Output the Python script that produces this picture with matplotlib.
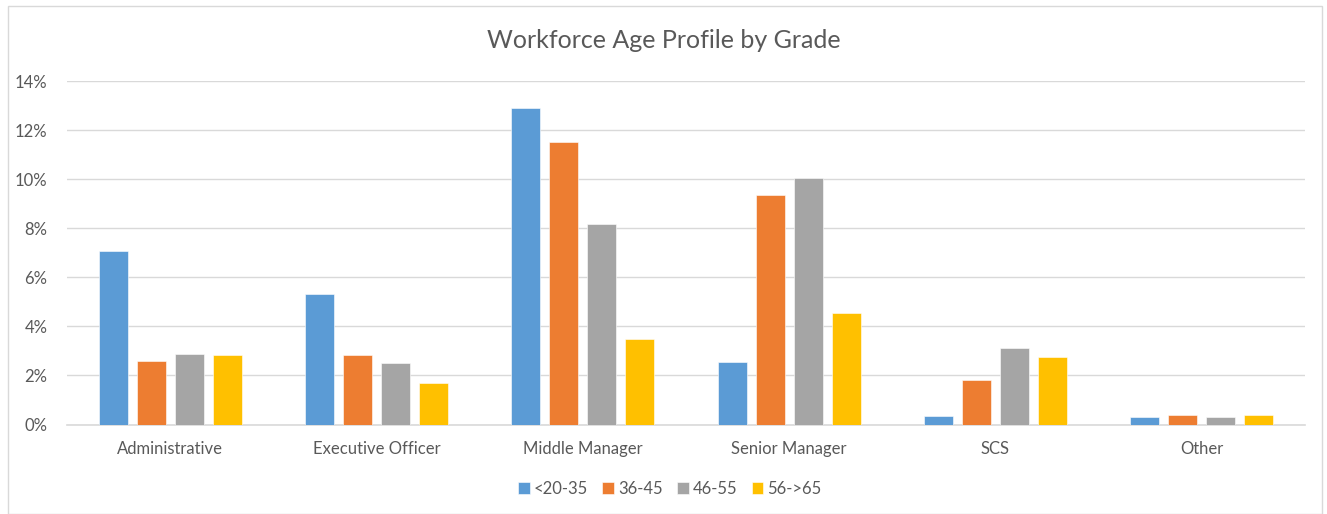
import matplotlib

matplotlib.use("Agg")
import matplotlib.pyplot as plt
import numpy as np
from matplotlib.patches import Rectangle
from matplotlib.ticker import FuncFormatter

plt.rcParams["font.family"] = ["Lato", "DejaVu Sans"]

grades = ["Administrative", "Executive Officer", "Middle Manager",
          "Senior Manager", "SCS", "Other"]
age_bands = ["<20-35", "36-45", "46-55", "56->65"]
share_20_35 = [7.08, 5.31, 12.89, 2.55, 0.33, 0.29]
share_36_45 = [2.59, 2.83, 11.51, 9.35, 1.82, 0.37]
share_46_55 = [2.87, 2.49, 8.17, 10.03, 3.11, 0.29]
share_56_65 = [2.83, 1.68, 3.47, 4.53, 2.77, 0.37]
colors = ["#5B9BD5", "#ED7D31", "#A5A5A5", "#FFC000"]

series = [share_20_35, share_36_45, share_46_55, share_56_65]
text_color = "#595959"
grid_color = "#D9D9D9"

fig = plt.figure(figsize=(13.27, 5.14), dpi=100)
ax = fig.add_axes([67 / 1327, 1 - 424.5 / 514, (1305 - 67) / 1327, (424.5 - 81) / 514])

x = np.arange(len(grades))
width = 0.14
step = 0.184
for i, (values, label, color) in enumerate(zip(series, age_bands, colors)):
    offset = (i - 1.5) * step
    ax.bar(x + offset, values, width, color=color, label=label,
           edgecolor="white", linewidth=0.4, zorder=3)

ax.set_xlim(-0.5, len(grades) - 0.5)
ax.set_ylim(0, 14)
ax.set_yticks(np.arange(0, 15, 2))
ax.yaxis.set_major_formatter(FuncFormatter(lambda v, _: f"{v:.0f}%"))
ax.set_xticks(x)
ax.set_xticklabels(grades)
ax.grid(axis="y", color=grid_color, linewidth=1, zorder=0)
for side in ("top", "right", "left"):
    ax.spines[side].set_visible(False)
ax.spines["bottom"].set_color(grid_color)
ax.spines["bottom"].set_linewidth(1.2)
ax.tick_params(axis="both", length=0, labelsize=12, colors=text_color)
ax.tick_params(axis="x", pad=12)
ax.tick_params(axis="y", pad=14)

fig.text(0.5, 1 - 40 / 514, "Workforce Age Profile by Grade", ha="center", va="center",
         fontsize=18, color=text_color)

fig.legend(loc="center", bbox_to_anchor=(670 / 1327, 1 - 489 / 514), ncol=4,
           frameon=False, fontsize=12, handlelength=0.7, handleheight=0.7,
           handletextpad=0.25, columnspacing=0.85, labelcolor=text_color)

fig.patches.append(Rectangle((8 / 1327, 0), 1314 / 1327, 1 - 6 / 514,
                             transform=fig.transFigure, fill=False,
                             edgecolor=grid_color, linewidth=1))

fig.savefig("out.png", dpi=100)
plt.close(fig)
